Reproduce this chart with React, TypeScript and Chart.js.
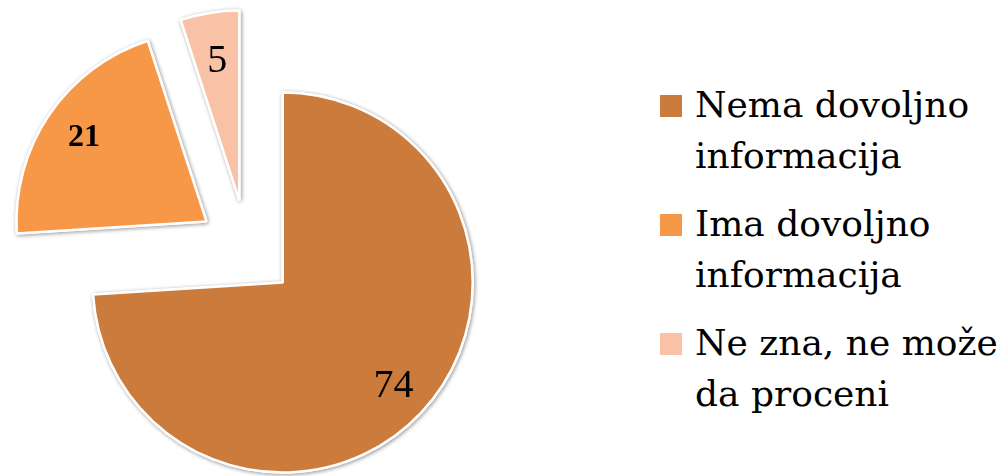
import React, { useEffect, useRef } from 'react';
import { Chart, registerables } from 'chart.js';

Chart.register(...registerables);

// ---- data ----
const categories: string[][] = [
  ['Nema dovoljno', 'informacija'],
  ['Ima dovoljno', 'informacija'],
  ['Ne zna, ne može', 'da proceni'],
];
const values: number[] = [74, 21, 5];

// ---- styles ----
const sliceColors: string[] = ['#CB7B3B', '#F79748', '#F9C2A7'];
const labelFontSizes: number[] = [40, 32, 40];
const labelFontWeights: string[] = ['normal', 'bold', 'normal'];
const labelRadialPos: number[] = [0.8, 0.78, 0.74];
const EXPLODE = 49;
const PIE_RADIUS = 190;

const explodePlugin = {
  id: 'explodeSlices',
  beforeDatasetDraw(chart: any, args: any) {
    const ctx = chart.ctx;
    const arcs = args.meta.data;
    const pass = (shadow: boolean) => {
      arcs.forEach((arc: any) => {
        const { startAngle, endAngle } = arc.getProps(['startAngle', 'endAngle'], true);
        const mid = (startAngle + endAngle) / 2;
        ctx.save();
        ctx.translate(Math.cos(mid) * EXPLODE, Math.sin(mid) * EXPLODE);
        if (shadow) {
          ctx.shadowColor = 'rgba(0,0,0,0.35)';
          ctx.shadowBlur = 4;
          ctx.shadowOffsetX = 1;
          ctx.shadowOffsetY = 1;
        }
        arc.draw(ctx);
        ctx.restore();
      });
    };
    pass(true);
    pass(false);
    return false;
  },
  afterDatasetsDraw(chart: any) {
    const ctx = chart.ctx;
    const meta = chart.getDatasetMeta(0);
    const data = chart.data.datasets[0].data;
    meta.data.forEach((arc: any, i: number) => {
      const { x, y, startAngle, endAngle, outerRadius } = arc.getProps(
        ['x', 'y', 'startAngle', 'endAngle', 'outerRadius'],
        true
      );
      const mid = (startAngle + endAngle) / 2;
      const d = EXPLODE + outerRadius * labelRadialPos[i];
      ctx.save();
      ctx.fillStyle = '#000';
      ctx.textAlign = 'center';
      ctx.textBaseline = 'middle';
      ctx.font = `${labelFontWeights[i]} ${labelFontSizes[i]}px "Liberation Serif", serif`;
      ctx.fillText(String(data[i]), x + Math.cos(mid) * d, y + Math.sin(mid) * d);
      ctx.restore();
    });
  },
};

export default function App() {
  const canvasRef = useRef<HTMLCanvasElement | null>(null);

  useEffect(() => {
    if (!canvasRef.current) return;
    const chart = new Chart(canvasRef.current, {
      type: 'pie',
      data: {
        labels: categories,
        datasets: [
          {
            data: values,
            backgroundColor: sliceColors,
            borderColor: '#ffffff',
            borderWidth: 2.5,
            radius: PIE_RADIUS,
          } as any,
        ],
      },
      options: {
        animation: false,
        responsive: false,
        layout: { padding: { top: 22, right: 106, bottom: 0, left: 0 } },
        plugins: {
          legend: { display: false },
          tooltip: { enabled: false },
        },
      },
      plugins: [explodePlugin as any],
    });
    return () => chart.destroy();
  }, []);

  return (
    <div
      style={{
        position: 'fixed',
        left: 0,
        top: 0,
        width: 1000,
        height: 476,
        background: '#ffffff',
        overflow: 'hidden',
      }}
    >
      <canvas
        ref={canvasRef}
        width={600}
        height={476}
        style={{ position: 'absolute', left: 0, top: 0, width: 600, height: 476 }}
      />
      <div
        style={{
          position: 'absolute',
          left: 660,
          top: 79,
          display: 'flex',
          flexDirection: 'column',
          gap: 17,
          fontFamily: '"DejaVu Serif", serif',
          fontSize: 36,
          lineHeight: '51px',
          color: '#000',
        }}
      >
        {categories.map((lines, i) => (
          <div key={i} style={{ position: 'relative', paddingLeft: 35, whiteSpace: 'nowrap' }}>
            <span
              style={{
                position: 'absolute',
                left: 0,
                top: 16,
                width: 22,
                height: 22,
                background: sliceColors[i],
              }}
            />
            {lines.map((ln, j) => (
              <div key={j}>{ln}</div>
            ))}
          </div>
        ))}
      </div>
    </div>
  );
}
